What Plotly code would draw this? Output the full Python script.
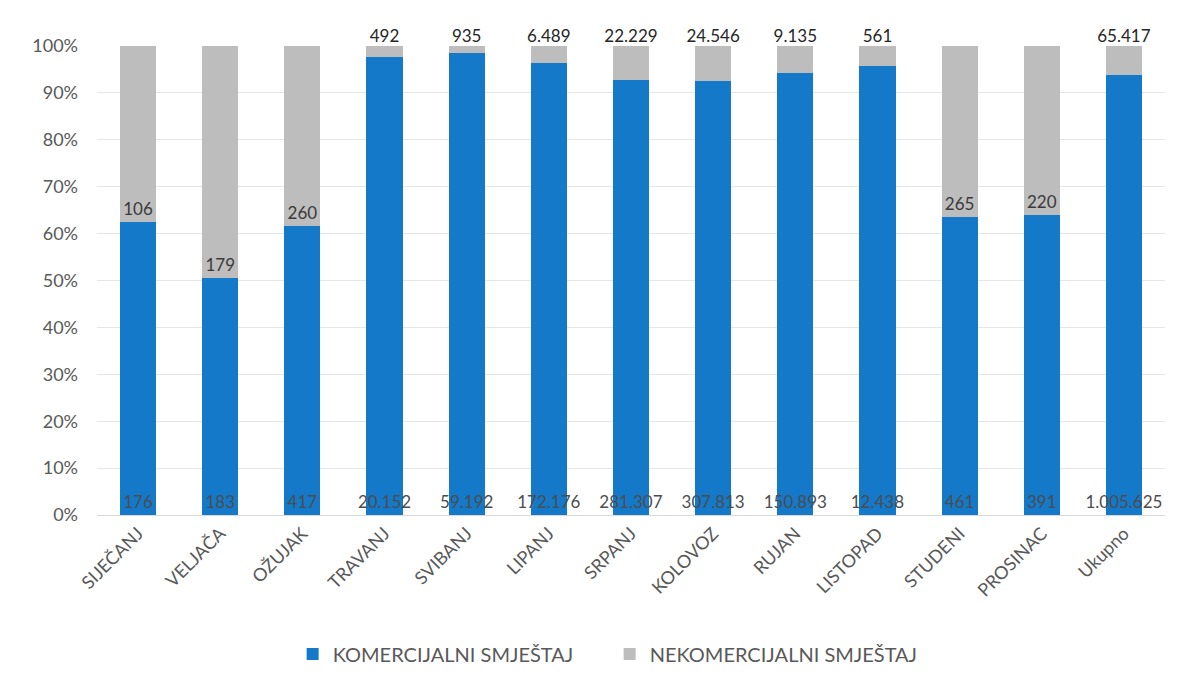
import plotly.graph_objects as go

months = ["SIJEČANJ", "VELJAČA", "OŽUJAK", "TRAVANJ", "SVIBANJ", "LIPANJ", "SRPANJ",
          "KOLOVOZ", "RUJAN", "LISTOPAD", "STUDENI", "PROSINAC", "Ukupno"]
komercijalni = [176, 183, 417, 20152, 59192, 172176, 281307, 307813, 150893, 12438, 461, 391, 1005625]
nekomercijalni = [106, 179, 260, 492, 935, 6489, 22229, 24546, 9135, 561, 265, 220, 65417]

def fmt(v):
    return f"{v:,}".replace(",", ".")

totals = [a + b for a, b in zip(komercijalni, nekomercijalni)]
kom_pct = [a / t * 100 for a, t in zip(komercijalni, totals)]
nek_pct = [b / t * 100 for b, t in zip(nekomercijalni, totals)]
top_pct = [round(k + n, 6) for k, n in zip(kom_pct, nek_pct)]

BLUE = "#1479c9"
GREY = "#bdbdbd"
FONT = "Lato"

inside_grey = [p > 15 for p in nek_pct]

fig = go.Figure()
fig.add_trace(go.Bar(
    x=months, y=kom_pct, name="KOMERCIJALNI SMJEŠTAJ",
    marker=dict(color=BLUE, line=dict(width=0)),
    text=[fmt(v) for v in komercijalni],
    textposition="inside", insidetextanchor="start",
    constraintext="none", textangle=0,
    textfont=dict(family=FONT, size=17, color="#4d4d4d"),
    hoverinfo="skip",
))
fig.add_trace(go.Bar(
    x=months, y=nek_pct, name="NEKOMERCIJALNI SMJEŠTAJ",
    marker=dict(color=GREY, line=dict(width=0)),
    text=[fmt(v) if ins else "" for v, ins in zip(nekomercijalni, inside_grey)],
    textposition="inside", insidetextanchor="start",
    constraintext="none", textangle=0,
    textfont=dict(family=FONT, size=17, color="#3a3a3a"),
    hoverinfo="skip",
))
# labels above the small grey segments
fig.add_trace(go.Scatter(
    x=months, y=top_pct, mode="text",
    text=["" if ins else fmt(v) for v, ins in zip(nekomercijalni, inside_grey)],
    textposition="top center", cliponaxis=False,
    textfont=dict(family=FONT, size=17, color="#262626"),
    showlegend=False, hoverinfo="skip",
))

fig.update_layout(
    width=1193, height=681,
    barmode="stack", bargap=0.56,
    paper_bgcolor="white", plot_bgcolor="white",
    margin=dict(l=89, r=36, t=38, b=174, autoexpand=False),
    font=dict(family=FONT, color="#595959"),
    legend=dict(orientation="h", x=0.48, xanchor="center", y=-0.255, yanchor="top",
                font=dict(family=FONT, size=20, color="#595959"),
                traceorder="normal", itemwidth=30,
                entrywidth=272, entrywidthmode="pixels"),
    showlegend=True,
)
fig.update_yaxes(range=[0, 100.001], tickmode="linear", tick0=0, dtick=10, ticksuffix="%",
                 showgrid=True, gridcolor="#e6e6e6", gridwidth=1,
                 zeroline=False, showline=False, automargin=False,
                 tickfont=dict(family=FONT, size=18, color="#595959"),
                 ticklabelstandoff=18)
fig.update_xaxes(range=[-0.5, len(months) - 0.5], tickangle=-45,
                 showline=True, linecolor="#d9d9d9", automargin=False,
                 tickfont=dict(family=FONT, size=18, color="#595959"))

fig.write_html("out.html")
